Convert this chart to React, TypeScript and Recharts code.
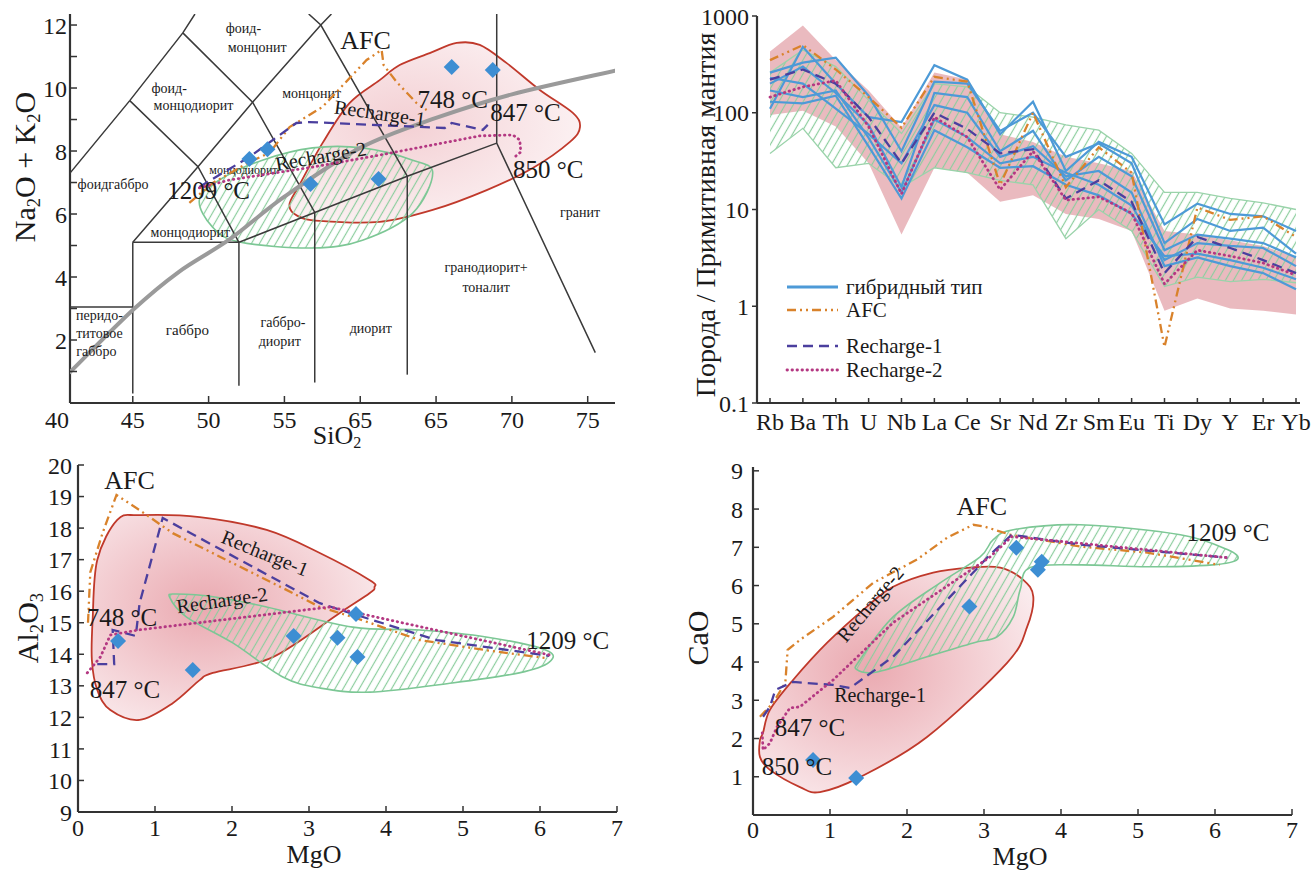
import React from "react"
import { ScatterChart, Scatter, ComposedChart, Line, Area, XAxis, YAxis } from "recharts"

type Pt = [number, number]
interface Note { x: number; y: number; text: string; size: number; angle?: number; color?: string }

const SERIF = '"Liberation Serif", "DejaVu Serif", serif'
const BLUE = "#3d8ed3"
const BLUE_LINE = "#4d9ad7"
const ORANGE = "#d9822b"
const PURPLE = "#4b3f9e"
const MAGENTA = "#b43882"
const RED = "#c0392b"
const GREEN = "#7cc795"
const INK = "#1a1a1a"
const FRAME = "#333"

const afcStyle = { stroke: ORANGE, strokeWidth: 2.3, strokeDasharray: "9 4 2 4 2 4" }
const r1Style = { stroke: PURPLE, strokeWidth: 2.3, strokeDasharray: "10 6" }
const r2Style = { stroke: MAGENTA, strokeWidth: 2.8, strokeDasharray: "0.5 4.5", strokeLinecap: "round" }
const frameLine = { stroke: FRAME, strokeWidth: 2.2 }

// ---------- TAS (SiO2 vs Na2O+K2O)
const tasXTicks = [40.86, 45, 50, 55, 60, 65, 70, 75]
const tasXTickLabels = ["40", "45", "50", "55", "65", "65", "70", "75"]
const tasYTicks = [1, 2, 3, 4, 5, 6, 7, 8, 9, 10, 11, 12]
const tasYTickLabels = ["", "2", "", "4", "", "6", "", "8", "", "10", "", "12"]

const tasBoundaries: Pt[][] = [
  [[40.86, 3.05], [45, 3.05]],
  [[45, 0.3], [45, 5.1]],
  [[45, 5.1], [52, 5.1]],
  [[52, 0.55], [52, 5.1], [57, 6.05], [63.1, 7.2], [69, 8.25]],
  [[57, 0.65], [57, 6.05]],
  [[63.1, 0.9], [63.1, 7.2]],
  [[69, 12.35], [69, 8.25], [75.5, 1.6]],
  [[40.86, 7.3], [44.8, 9.6], [48.3, 11.75], [49.1, 12.35]],
  [[45, 5.1], [49.3, 7.5], [52.9, 9.55], [57.4, 12.0], [58.1, 12.35]],
  [[44.8, 9.6], [49.3, 7.5], [52, 5.1]],
  [[48.3, 11.75], [52.9, 9.55], [57, 6.05]],
  [[56.6, 12.35], [57.4, 12.0], [63.1, 7.2]],
]
const tasAlkaliDivide: Pt[] = [[40.86, 0.98], [45, 2.95], [48, 4.15], [51.4, 5.2], [55, 6.55], [60, 8.1], [65, 9.05], [70, 9.8], [76.8, 10.55]]

const tasPinkField: Pt[] = [
  [55.33, 6.29], [55.86, 5.94], [57.31, 5.78], [61.28, 5.75], [64.78, 6.13], [68.34, 6.76], [71.38, 7.46],
  [73.83, 8.29], [74.49, 8.76], [74.02, 9.21], [71.84, 9.94], [69.66, 10.79], [67.88, 11.37], [66.36, 11.43],
  [64.58, 11.11], [62.6, 10.73], [61.28, 10.25], [59.29, 9.52], [57.51, 8.25], [55.99, 6.92],
]
const tasGreenField: Pt[] = [
  [52.03, 5.11], [56.85, 4.92], [60.15, 5.17], [63.46, 6.03], [64.78, 7.3], [63.46, 7.71], [60.15, 8.1],
  [56.85, 8.1], [53.55, 7.71], [50.71, 7.08], [49.39, 6.44], [50.25, 5.59],
]
const tasAfc: Pt[] = [
  [48.73, 6.35], [50.25, 6.98], [52.69, 7.65], [54.01, 7.94], [55.34, 8.76], [57.51, 9.4], [60.42, 10.89],
  [61.41, 11.21], [61.54, 10.73], [62.4, 10.19], [63.72, 9.52], [64.38, 9.3],
]
const tasR1: Pt[] = [
  [49.39, 6.86], [52.69, 7.81], [55.79, 8.89], [56.65, 8.92], [65.57, 8.73], [66.03, 8.89], [68.08, 8.67], [68.41, 8.83],
]
const tasR2: Pt[] = [
  [49.39, 6.83], [51.37, 7.08], [56.85, 7.49], [61.28, 7.87], [67.88, 8.48], [70.06, 8.51], [70.52, 8.35], [70.59, 7.97], [70.26, 7.84],
]
const tasSamples: Pt[] = [[52.69, 7.75], [53.88, 8.06], [56.72, 6.95], [61.21, 7.11], [66.03, 10.67], [68.74, 10.57]]

const tasRegionNames: Note[] = [
  { x: 52.3, y: 11.9, text: "фоид-", size: 14 },
  { x: 53.2, y: 11.3, text: "монцонит", size: 14 },
  { x: 47.4, y: 10.0, text: "фоид-", size: 14 },
  { x: 49.0, y: 9.46, text: "монцодиорит", size: 14 },
  { x: 56.8, y: 9.84, text: "монцонит", size: 14 },
  { x: 43.7, y: 6.95, text: "фоидгаббро", size: 14 },
  { x: 52.3, y: 7.4, text: "монцодиорит", size: 12 },
  { x: 48.8, y: 5.4, text: "монцодиорит", size: 14 },
  { x: 42.8, y: 2.79, text: "перидо-", size: 14 },
  { x: 42.8, y: 2.22, text: "титовое", size: 14 },
  { x: 42.6, y: 1.62, text: "габбро", size: 14 },
  { x: 48.6, y: 2.32, text: "габбро", size: 15 },
  { x: 54.9, y: 2.54, text: "габбро-", size: 14 },
  { x: 54.7, y: 1.94, text: "диорит", size: 14 },
  { x: 60.7, y: 2.38, text: "диорит", size: 14 },
  { x: 68.3, y: 4.29, text: "гранодиорит+", size: 14 },
  { x: 68.3, y: 3.68, text: "тоналит", size: 14 },
  { x: 74.5, y: 6.06, text: "гранит", size: 14 },
]
const tasNotes: Note[] = [
  { x: 60.35, y: 11.52, text: "AFC", size: 26 },
  { x: 66.1, y: 9.62, text: "748 °C", size: 25 },
  { x: 70.9, y: 9.21, text: "847 °C", size: 25 },
  { x: 72.4, y: 7.4, text: "850 °C", size: 25 },
  { x: 50.0, y: 6.76, text: "1209 °C", size: 25 },
  { x: 61.3, y: 9.21, text: "Recharge-1", size: 20, angle: 8 },
  { x: 57.4, y: 7.84, text: "Recharge-2", size: 20, angle: -10 },
]

// ---------- spider diagram
const elements = ["Rb", "Ba", "Th", "U", "Nb", "La", "Ce", "Sr", "Nd", "Zr", "Sm", "Eu", "Ti", "Dy", "Y", "Er", "Yb"]
const spiderYTicks = [0.1, 1, 10, 100, 1000]
const pinkLo = [95, 105, 72, 30, 5.5, 27, 24, 12, 14, 9, 8, 6, 0.9, 1.2, 0.95, 0.9, 0.82]
const pinkHi = [430, 800, 350, 170, 70, 260, 220, 60, 50, 35, 30, 25, 6, 5.5, 4.8, 4.2, 3.2]
const greenLo = [38, 69, 27, 30, 17, 27, 24, 20, 18, 5, 10, 6, 1.6, 2.0, 1.8, 1.9, 1.75]
const greenHi = [260, 445, 300, 135, 61, 200, 185, 100, 90, 75, 66, 38, 15, 15, 13, 11.7, 10]
const hybrid1 = [110, 480, 200, 90, 80, 310, 220, 60, 130, 25, 50, 35, 7, 11.5, 9, 8.5, 6]
const hybrid2 = [260, 330, 370, 150, 40, 210, 200, 65, 100, 35, 48, 30, 4.5, 8, 6, 6.5, 3.5]
const hybrid3 = [200, 300, 160, 75, 17, 160, 145, 40, 65, 20, 35, 22, 3.8, 5.5, 5, 4.5, 3.2]
const hybrid4 = [170, 145, 170, 55, 15, 85, 56, 30, 35, 24, 18, 11, 3, 4.5, 4.2, 4, 2.6]
const hybrid5 = [130, 125, 150, 45, 13, 66, 44, 27, 28, 18, 14, 9, 3.3, 3.5, 3, 2.5, 1.9]
const hybrid6 = [230, 200, 110, 60, 30, 120, 100, 35, 45, 22, 25, 15, 2.6, 3.2, 2.6, 2.2, 1.5]
const hybridSamples = [hybrid1, hybrid2, hybrid3, hybrid4, hybrid5, hybrid6]
const spiderAfc = [350, 500, 280, 145, 70, 235, 210, 18, 100, 17, 44, 24, 0.38, 10.5, 7.8, 8.5, 5.2]
const spiderR1 = [220, 280, 200, 90, 30, 100, 68, 38, 42, 13, 20, 12, 2.2, 5.2, 4.0, 3.0, 2.2]
const spiderR2 = [145, 185, 215, 72, 14.5, 90, 56, 16, 40, 12.5, 13.5, 9.2, 1.7, 3.8, 3.3, 2.8, 2.1]

const spiderRows = elements.map((el, i) => {
  const row: Record<string, any> = {
    el,
    pink: [pinkLo[i], pinkHi[i]],
    green: [greenLo[i], greenHi[i]],
    afc: spiderAfc[i],
    r1: spiderR1[i],
    r2: spiderR2[i],
  }
  hybridSamples.forEach((s, k) => { row[`h${k}`] = s[i] })
  return row
})

const legendItems = [
  { text: "гибридный тип", style: { stroke: BLUE_LINE, strokeWidth: 3 } },
  { text: "AFC", style: afcStyle },
  { text: "Recharge-1", style: r1Style },
  { text: "Recharge-2", style: r2Style },
]

// ---------- MgO vs Al2O3
const mgoTicks = [0, 1, 2, 3, 4, 5, 6, 7]
const alTicks = [9, 10, 11, 12, 13, 14, 15, 16, 17, 18, 19, 20]
const alSamples: Pt[] = [[0.52, 14.42], [1.49, 13.5], [2.8, 14.58], [3.37, 14.52], [3.61, 15.28], [3.63, 13.91]]
const alAfc: Pt[] = [
  [0.13, 15.0], [0.16, 16.6], [0.32, 17.85], [0.5, 19.05], [0.8, 18.57], [1.23, 17.84], [2.01, 16.89],
  [2.79, 15.94], [3.14, 15.5], [3.57, 15.18], [4.44, 14.45], [5.3, 14.13], [6.08, 13.88],
]
const alR1: Pt[] = [
  [0.25, 13.69], [0.47, 13.69], [0.45, 14.77], [0.75, 14.58], [0.8, 15.62], [1.1, 18.32], [3.14, 15.62],
  [3.57, 15.28], [4.66, 14.45], [6.12, 13.95],
]
const alR2: Pt[] = [[0.12, 13.41], [0.29, 13.91], [0.42, 14.61], [0.78, 14.77], [3.27, 15.5], [3.57, 15.34], [6.12, 13.98]]
const alPinkField: Pt[] = [
  [0.19, 15.09], [0.25, 16.99], [0.51, 18.26], [0.8, 18.41], [1.58, 18.35], [2.45, 17.94], [3.14, 17.21],
  [3.79, 16.35], [3.85, 16.13], [3.79, 15.94], [3.4, 15.31], [2.53, 13.91], [1.75, 13.41], [1.58, 13.18],
  [1.23, 12.45], [0.8, 11.92], [0.42, 12.23], [0.25, 12.87], [0.18, 13.82],
]
const alGreenField: Pt[] = [
  [1.19, 15.81], [1.41, 15.18], [2.01, 14.36], [2.66, 13.28], [3.14, 12.93], [3.79, 12.8], [4.86, 13.09],
  [5.73, 13.41], [6.12, 13.75], [6.08, 14.13], [5.3, 14.55], [4.44, 14.77], [3.57, 14.86], [2.45, 15.5],
  [1.8, 15.81], [1.28, 15.91],
]
const alNotes: Note[] = [
  { x: 0.67, y: 19.52, text: "AFC", size: 26 },
  { x: 2.43, y: 17.21, text: "Recharge-1", size: 20, angle: 22 },
  { x: 1.87, y: 15.72, text: "Recharge-2", size: 20, angle: -8 },
  { x: 0.57, y: 15.18, text: "748 °C", size: 25 },
  { x: 0.61, y: 12.87, text: "847 °C", size: 25 },
  { x: 6.36, y: 14.45, text: "1209 °C", size: 25 },
]

// ---------- MgO vs CaO
const caTicks = [1, 2, 3, 4, 5, 6, 7, 8, 9]
const caSamples: Pt[] = [[0.78, 1.44], [1.34, 0.97], [2.81, 5.45], [3.42, 6.99], [3.7, 6.41], [3.75, 6.62]]
const caAfc: Pt[] = [
  [0.09, 2.57], [0.26, 2.93], [0.42, 3.46], [0.45, 4.32], [0.61, 4.58], [1.04, 5.18], [1.56, 6.07], [2.13, 6.68],
  [2.52, 7.25], [2.86, 7.59], [3.01, 7.54], [3.34, 7.33], [4.25, 7.02], [5.12, 6.86], [6.06, 6.54],
]
const caR1: Pt[] = [
  [0.13, 2.57], [0.22, 2.83], [0.29, 3.27], [0.52, 3.48], [1.04, 3.4], [1.26, 3.32], [1.82, 4.14], [3.08, 6.81],
  [3.36, 7.33], [4.25, 7.07], [6.16, 6.73],
]
const caR2: Pt[] = [
  [0.12, 2.15], [0.13, 1.7], [0.22, 1.88], [0.31, 2.3], [0.48, 2.8], [0.61, 2.83], [1.04, 3.53], [1.82, 5.03],
  [3.08, 6.75], [3.36, 7.28], [6.16, 6.73],
]
const caPinkField: Pt[] = [
  [0.13, 2.15], [0.22, 2.75], [0.52, 3.53], [0.96, 4.5], [1.48, 5.45], [1.82, 5.97], [2.34, 6.34], [2.82, 6.47],
  [3.21, 6.47], [3.51, 6.15], [3.64, 5.71], [3.56, 4.92], [3.3, 3.98], [2.26, 2.04], [1.39, 0.99], [0.87, 0.6],
  [0.61, 0.73], [0.22, 1.18], [0.09, 1.52], [0.09, 1.96],
]
const caGreenField: Pt[] = [
  [1.35, 3.8], [1.39, 4.06], [1.82, 5.18], [2.43, 6.07], [2.95, 6.75], [3.12, 7.2], [3.38, 7.46], [4.25, 7.59],
  [5.55, 7.33], [6.16, 6.94], [6.29, 6.68], [5.97, 6.54], [5.12, 6.49], [4.25, 6.54], [3.6, 6.47], [3.47, 5.89],
  [3.38, 5.18], [3.17, 4.66], [2.86, 4.5], [2.26, 4.14], [1.61, 3.74],
]
const caNotes: Note[] = [
  { x: 2.97, y: 8.06, text: "AFC", size: 26 },
  { x: 1.52, y: 5.52, text: "Recharge-2", size: 20, angle: -50 },
  { x: 1.65, y: 3.14, text: "Recharge-1", size: 20 },
  { x: 0.74, y: 2.28, text: "847 °C", size: 25 },
  { x: 0.57, y: 1.26, text: "850 °C", size: 25 },
  { x: 6.17, y: 7.38, text: "1209 °C", size: 25 },
]

// ---------- drawing helpers
type XYP = { x: number; y: number }
const toXY = (pts: Pt[]) => pts.map(([x, y]) => ({ x, y }))

function linePath(pts: XYP[], closed: boolean) {
  if (!pts.length) return ""
  return pts.map((p, i) => `${i ? "L" : "M"}${p.x},${p.y}`).join("") + (closed ? "Z" : "")
}

function smoothPath(pts: XYP[], closed: boolean) {
  const n = pts.length
  if (n < 3) return linePath(pts, closed)
  const at = (i: number) => (closed ? pts[(i + n) % n] : pts[Math.max(0, Math.min(n - 1, i))])
  let d = `M${pts[0].x},${pts[0].y}`
  const segs = closed ? n : n - 1
  for (let i = 0; i < segs; i++) {
    const p0 = at(i - 1), p1 = at(i), p2 = at(i + 1), p3 = at(i + 2)
    d += `C${p1.x + (p2.x - p0.x) / 6},${p1.y + (p2.y - p0.y) / 6} ${p2.x - (p3.x - p1.x) / 6},${p2.y - (p3.y - p1.y) / 6} ${p2.x},${p2.y}`
  }
  return closed ? d + "Z" : d
}

const pathLine = (style: Record<string, any>, smooth: boolean, closed: boolean) => (props: any) => {
  const pts: XYP[] = props.points || []
  return <path d={smooth ? smoothPath(pts, closed) : linePath(pts, closed)} fill="none" {...style} />
}

const Blank = () => <g />

const Diamond = (p: any) => (
  <polygon points={`${p.cx},${p.cy - 8} ${p.cx + 8},${p.cy} ${p.cx},${p.cy + 8} ${p.cx - 8},${p.cy}`} fill={BLUE} />
)

const NoteText = (p: any) => {
  const n: Note = p.payload || p
  return (
    <text
      x={p.cx}
      y={p.cy}
      textAnchor="middle"
      dominantBaseline="central"
      fontSize={n.size}
      fill={n.color || INK}
      transform={n.angle ? `rotate(${n.angle} ${p.cx} ${p.cy})` : undefined}
    >
      {n.text}
    </text>
  )
}

function fieldLayer(key: string, pts: Pt[], kind: "pink" | "green", opacity = 1) {
  const style = kind === "pink"
    ? { fill: "url(#pinkGrad)", fillOpacity: opacity, stroke: RED, strokeWidth: 1.8 }
    : { fill: "url(#hatch)", stroke: GREEN, strokeWidth: 1.6 }
  return <Scatter key={key} data={toXY(pts)} shape={Blank} line={pathLine(style, true, true)} isAnimationActive={false} />
}

function polyLayer(key: string, pts: Pt[], style: Record<string, any>, smooth = false) {
  return <Scatter key={key} data={toXY(pts)} shape={Blank} line={pathLine(style, smooth, false)} isAnimationActive={false} />
}

function dotLayer(key: string, pts: Pt[]) {
  return <Scatter key={key} data={toXY(pts)} shape={Diamond} isAnimationActive={false} />
}

function noteLayer(key: string, notes: Note[]) {
  return <Scatter key={key} data={notes} shape={NoteText} isAnimationActive={false} />
}

interface TickOpts { side: "left" | "bottom"; margin: number; len: number; size: number; labels?: string[]; firstEnd?: boolean }
function makeTick(o: TickOpts) {
  return function Tick(p: any) {
    const { x, y, payload, index } = p
    const text = o.labels ? o.labels[index] ?? "" : String(payload.value)
    if (o.side === "left") {
      const ax = x + o.margin
      return (
        <g>
          <line x1={ax} x2={ax + o.len} y1={y} y2={y} stroke={FRAME} strokeWidth={1.5} />
          <text x={x} y={y} dy="0.36em" textAnchor="end" fontSize={o.size} fill={INK}>{text}</text>
        </g>
      )
    }
    const ay = y - o.margin
    const first = o.firstEnd && index === 0
    return (
      <g>
        {!first && <line x1={x} x2={x} y1={ay} y2={ay - o.len} stroke={FRAME} strokeWidth={1.5} />}
        <text x={first ? x - 1 : x} y={y} dy="0.74em" textAnchor={first ? "end" : "middle"} fontSize={o.size} fill={INK}>{text}</text>
      </g>
    )
  }
}

function frameAxes(xDomain: number[], yDomain: number[]) {
  return [
    <XAxis key="fx" xAxisId="top" orientation="top" type="number" dataKey="x" domain={xDomain} allowDataOverflow height={0} tick={false} tickLine={false} axisLine={frameLine} />,
    <YAxis key="fy" yAxisId="right" orientation="right" type="number" dataKey="y" domain={yDomain} allowDataOverflow width={0} tick={false} tickLine={false} axisLine={frameLine} />,
  ]
}

const sub = { fontSize: "0.62em", verticalAlign: "-0.3em" }
const vTitle = (left: number, top: number, size: number): React.CSSProperties => ({
  position: "absolute", left, top, transform: "translate(-50%, -50%) rotate(-90deg)", fontSize: size, whiteSpace: "nowrap", lineHeight: 1,
})
const hTitle = (left: number, top: number, size: number): React.CSSProperties => ({
  position: "absolute", left, top, transform: "translate(-50%, -50%)", fontSize: size, whiteSpace: "nowrap", lineHeight: 1,
})

export default function App() {
  const tasX = [40.86, 76.8]
  const tasY = [0, 12.35]
  const mgX = [0, 7]
  const alY = [9, 20]
  const caY = [0, 9.1]

  return (
    <div style={{ position: "absolute", left: 0, top: 0, width: 1314, height: 870, background: "#fff", fontFamily: SERIF, color: INK }}>
      <svg width={0} height={0} style={{ position: "absolute" }}>
        <defs>
          <pattern id="hatch" patternUnits="userSpaceOnUse" width={7} height={7} patternTransform="rotate(30)">
            <line x1={3.5} y1={0} x2={3.5} y2={7} stroke="#8ccd9e" strokeWidth={1.2} />
          </pattern>
          <radialGradient id="pinkGrad" cx="40%" cy="45%" r="70%">
            <stop offset="0%" stopColor="#eaa9b0" />
            <stop offset="100%" stopColor="#fbeef0" />
          </radialGradient>
        </defs>
      </svg>

      {/* TAS */}
      <div style={{ position: "absolute", left: 0, top: 0 }}>
        <ScatterChart width={640} height={450} margin={{ top: 14, right: 25, bottom: 0, left: 0 }}>
          <XAxis type="number" dataKey="x" domain={tasX} ticks={tasXTicks} interval={0} allowDataOverflow height={47}
            tickSize={0} tickMargin={7} axisLine={frameLine}
            tick={makeTick({ side: "bottom", margin: 7, len: 7, size: 24, labels: tasXTickLabels, firstEnd: true })} />
          <YAxis type="number" dataKey="y" domain={tasY} ticks={tasYTicks} interval={0} allowDataOverflow width={70}
            tickSize={0} tickMargin={3} axisLine={frameLine}
            tick={makeTick({ side: "left", margin: 3, len: 7, size: 24, labels: tasYTickLabels })} />
          {frameAxes(tasX, tasY)}
          {fieldLayer("pink", tasPinkField, "pink", 0.55)}
          {fieldLayer("green", tasGreenField, "green")}
          {tasBoundaries.map((b, i) => polyLayer(`b${i}`, b, { stroke: "#3a3a3a", strokeWidth: 1.5 }))}
          {polyLayer("alk", tasAlkaliDivide, { stroke: "#9a9a9a", strokeWidth: 4, strokeLinecap: "round" }, true)}
          {noteLayer("regions", tasRegionNames)}
          {polyLayer("afc", tasAfc, afcStyle)}
          {polyLayer("r1", tasR1, r1Style)}
          {polyLayer("r2", tasR2, r2Style)}
          {dotLayer("pts", tasSamples)}
          {noteLayer("notes", tasNotes)}
        </ScatterChart>
      </div>
      <div style={vTitle(27, 167, 30)}>Na<sub style={sub}>2</sub>O + K<sub style={sub}>2</sub>O</div>
      <div style={hTitle(337, 437, 26)}>SiO<sub style={sub}>2</sub></div>

      {/* spider */}
      <div style={{ position: "absolute", left: 680, top: 0 }}>
        <ComposedChart width={640} height={450} data={spiderRows} margin={{ top: 16, right: 20, bottom: 0, left: 0 }}>
          <XAxis dataKey="el" scale="point" padding={{ left: 13, right: 4 }} interval={0} height={47}
            tickSize={0} tickMargin={9} axisLine={frameLine}
            tick={makeTick({ side: "bottom", margin: 9, len: 5, size: 24 })} />
          <YAxis type="number" scale="log" domain={[0.1, 1000]} ticks={spiderYTicks} interval={0} allowDataOverflow width={77}
            tickSize={0} tickMargin={8} axisLine={frameLine}
            tick={makeTick({ side: "left", margin: 8, len: -5, size: 24 })} />
          <XAxis xAxisId="top" orientation="top" dataKey="el" height={0} tick={false} tickLine={false} axisLine={frameLine} />
          <YAxis yAxisId="right" orientation="right" width={0} tick={false} tickLine={false} axisLine={frameLine} />
          <Area dataKey="pink" type="linear" stroke="none" fill="#e3a3a9" fillOpacity={0.75} isAnimationActive={false} />
          <Area dataKey="green" type="linear" stroke="#9ad3aa" strokeWidth={1.3} fill="url(#hatch)" fillOpacity={1} isAnimationActive={false} />
          {hybridSamples.map((_, k) => (
            <Line key={k} dataKey={`h${k}`} type="linear" stroke={BLUE_LINE} strokeWidth={2.2} dot={false} isAnimationActive={false} />
          ))}
          <Line dataKey="afc" type="linear" dot={false} isAnimationActive={false} {...afcStyle} />
          <Line dataKey="r1" type="linear" dot={false} isAnimationActive={false} {...r1Style} />
          <Line dataKey="r2" type="linear" dot={false} isAnimationActive={false} {...r2Style} />
        </ComposedChart>
      </div>
      <div style={vTitle(706, 215, 28)}>Порода / Примитивная мантия</div>
      {legendItems.map((item, i) => (
        <div key={item.text} style={{ position: "absolute", left: 785, top: [287, 310, 346, 370][i] - 13, height: 26, display: "flex", alignItems: "center", fontSize: 21, whiteSpace: "nowrap" }}>
          <svg width={55} height={10}><line x1={2} x2={53} y1={5} y2={5} {...item.style} /></svg>
          <span style={{ marginLeft: 6 }}>{item.text}</span>
        </div>
      ))}

      {/* MgO - Al2O3 */}
      <div style={{ position: "absolute", left: 0, top: 450 }}>
        <ScatterChart width={640} height={420} margin={{ top: 15, right: 23, bottom: 0, left: 0 }}>
          <XAxis type="number" dataKey="x" domain={mgX} ticks={mgoTicks} interval={0} allowDataOverflow height={58}
            tickSize={0} tickMargin={6} axisLine={frameLine}
            tick={makeTick({ side: "bottom", margin: 6, len: 6, size: 24 })} />
          <YAxis type="number" dataKey="y" domain={alY} ticks={alTicks} interval={0} allowDataOverflow width={78}
            tickSize={0} tickMargin={6} axisLine={frameLine}
            tick={makeTick({ side: "left", margin: 6, len: 6, size: 24 })} />
          {frameAxes(mgX, alY)}
          {fieldLayer("pink", alPinkField, "pink")}
          {fieldLayer("green", alGreenField, "green")}
          {polyLayer("afc", alAfc, afcStyle)}
          {polyLayer("r1", alR1, r1Style)}
          {polyLayer("r2", alR2, r2Style)}
          {dotLayer("pts", alSamples)}
          {noteLayer("notes", alNotes)}
        </ScatterChart>
      </div>
      <div style={vTitle(30, 628, 30)}>Al<sub style={sub}>2</sub>O<sub style={sub}>3</sub></div>
      <div style={hTitle(314, 855, 26)}>MgO</div>

      {/* MgO - CaO */}
      <div style={{ position: "absolute", left: 680, top: 450 }}>
        <ScatterChart width={640} height={420} margin={{ top: 17, right: 28, bottom: 0, left: 0 }}>
          <XAxis type="number" dataKey="x" domain={mgX} ticks={mgoTicks} interval={0} allowDataOverflow height={55}
            tickSize={0} tickMargin={5} axisLine={frameLine}
            tick={makeTick({ side: "bottom", margin: 5, len: 6, size: 24 })} />
          <YAxis type="number" dataKey="y" domain={caY} ticks={caTicks} interval={0} allowDataOverflow width={73}
            tickSize={0} tickMargin={10} axisLine={frameLine}
            tick={makeTick({ side: "left", margin: 10, len: 6, size: 24 })} />
          {frameAxes(mgX, caY)}
          {fieldLayer("pink", caPinkField, "pink")}
          {fieldLayer("green", caGreenField, "green")}
          {polyLayer("afc", caAfc, afcStyle)}
          {polyLayer("r1", caR1, r1Style)}
          {polyLayer("r2", caR2, r2Style)}
          {dotLayer("pts", caSamples)}
          {noteLayer("notes", caNotes)}
        </ScatterChart>
      </div>
      <div style={vTitle(698, 638, 30)}>CaO</div>
      <div style={hTitle(1020, 857, 26)}>MgO</div>
    </div>
  )
}
